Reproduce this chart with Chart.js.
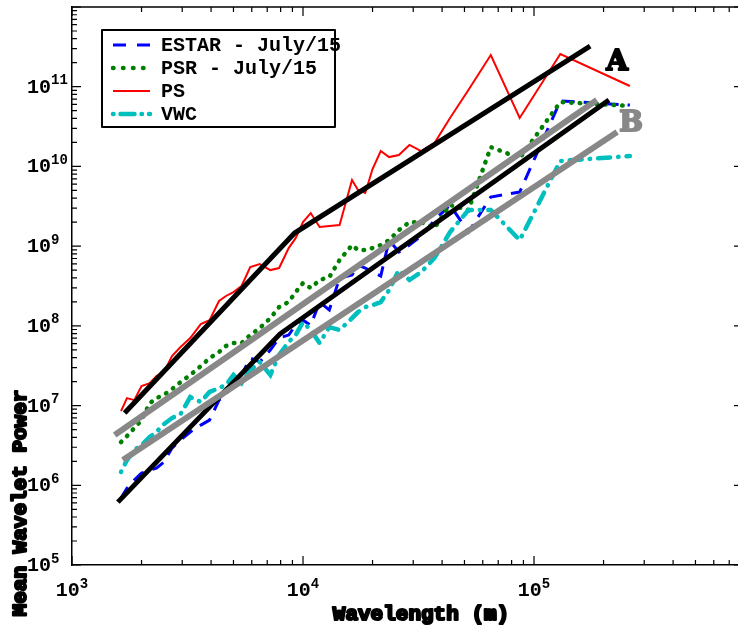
<!DOCTYPE html>
<html>
<head>
<meta charset="utf-8">
<title>Wavelet power vs wavelength</title>
<script src="https://cdn.jsdelivr.net/npm/chart.js@4.4.1/dist/chart.umd.min.js"></script>
<style>
  html, body { margin: 0; padding: 0; background: #fff; }
</style>
</head>
<body>
<canvas id="myChart" width="738" height="628"></canvas>
<script>
// wavelengths (m), shared by the four measured series
const wavelength = [1630, 1730, 1860, 2000, 2170, 2320, 2500, 2710, 2950, 3250,
  3610, 3940, 4330, 4640, 5000, 5420, 5910, 6500, 7220, 7880,
  8670, 9290, 10000, 10800, 11800, 13000, 14400, 16300, 17300, 18600,
  20000, 21700, 23600, 26000, 28900, 32500, 37100, 43300, 52000, 65000,
  86700, 130000, 260000];

const estarPower = [6.9e5, 9.2e5, 1.16e6, 1.42e6, 1.55e6, 1.64e6, 1.95e6, 2.93e6, 3.69e6, 4.66e6,
  5.69e6, 6.58e6, 1.17e7, 1.36e7, 2.09e7, 2.42e7, 3.94e7, 3.52e7, 4.97e7, 7.03e7,
  7.67e7, 1.02e8, 1.18e8, 1.02e8, 1.99e8, 1.58e8, 3.98e8, 4.34e8, 5.79e8, 5.31e8,
  4.73e8, 4.22e8, 1.19e9, 8.43e8, 1.03e9, 1.34e9, 2.12e9, 3.28e9, 1.50e9, 4.13e9,
  4.77e9, 6.62e10, 5.89e10];

const psrPower = [3.48e6, 4.14e6, 5.22e6, 6.58e6, 1.07e7, 1.24e7, 1.36e7, 1.61e7, 1.97e7, 2.42e7,
  3.13e7, 3.94e7, 4.69e7, 5.58e7, 6.08e7, 6.08e7, 7.67e7, 9.38e7, 1.25e8, 1.72e8,
  1.99e8, 2.65e8, 3.44e8, 2.98e8, 3.76e8, 4.09e8, 6.70e8, 1.03e9, 8.93e8, 8.93e8,
  9.46e8, 1.03e9, 1.19e9, 1.59e9, 2.00e9, 2.00e9, 1.69e9, 3.28e9, 2.84e9, 1.75e10,
  1.27e10, 6.43e10, 5.73e10];

const psPower = [8.53e6, 1.24e7, 1.17e7, 1.76e7, 1.91e7, 2.34e7, 2.63e7, 4.18e7, 5.42e7, 7.03e7,
  1.05e8, 1.18e8, 2.05e8, 2.37e8, 2.65e8, 3.16e8, 5.47e8, 5.96e8, 5.01e8, 5.31e8,
  9.46e8, 1.26e9, 2.00e9, 2.60e9, 1.74e9, 1.79e9, 1.84e9, 6.75e9, 5.06e9, 4.64e9,
  9.27e9, 1.56e10, 1.31e10, 1.39e10, 1.86e10, 1.56e10, 1.97e10, 4.05e10, 9.1e10, 2.50e11,
  4.05e10, 2.57e11, 1.02e11];

const vwcPower = [1.47e6, 2.07e6, 2.77e6, 3.19e6, 4.03e6, 4.66e6, 5.86e6, 6.97e6, 7.82e6, 1.28e7,
  1.11e7, 1.48e7, 1.66e7, 1.81e7, 2.42e7, 1.91e7, 2.79e7, 3.52e7, 2.42e7, 4.31e7,
  6.27e7, 7.67e7, 1.12e8, 8.86e7, 6.08e7, 9.66e7, 8.86e7, 1.25e8, 1.49e8, 1.72e8,
  1.82e8, 1.99e8, 2.81e8, 5.01e8, 3.76e8, 4.73e8, 7.10e8, 1.50e9, 2.84e9, 2.84e9,
  1.19e9, 1.17e10, 1.35e10];

// fitted power laws (A: black, B: gray)
const fitPsX = [1690, 9200, 175000];
const fitPsY = [8.05e6, 1.46e9, 3.24e11];
const fitEstarX = [1580, 7940, 211000];
const fitEstarY = [6.15e5, 7.89e7, 6.8e10];
const fitPsrX = [1530, 187000];
const fitPsrY = [4.27e6, 6.8e10];
const fitVwcX = [1660, 229000];
const fitVwcY = [2.07e6, 2.7e10];

const labelA = { text: 'A', x: 2.29e5, y: 1.98e11 };
const labelB = { text: 'B', x: 2.63e5, y: 3.4e10 };

const xTickValues = [1e3, 1e4, 1e5];
const yTickValues = [1e5, 1e6, 1e7, 1e8, 1e9, 1e10, 1e11];

const xTitle = 'Wavelength (m)';
const yTitle = 'Mean Wavelet Power';

const pts = (xs, ys) => xs.map((x, i) => ({ x: x, y: ys[i] }));
const MONO = '"Liberation Mono", "DejaVu Sans Mono", monospace';

// draws "10" with a raised exponent; align 'left' or 'center'
function drawPow(ctx, v, x, y, align) {
  const e = String(Math.round(Math.log10(v)));
  ctx.font = 'bold 20px ' + MONO;
  const wb = ctx.measureText('10').width;
  ctx.font = 'bold 14px ' + MONO;
  const we = ctx.measureText(e).width;
  const x0 = align === 'center' ? x - (wb + we) / 2 : x;
  ctx.textAlign = 'left';
  ctx.textBaseline = 'middle';
  ctx.font = 'bold 20px ' + MONO;
  ctx.fillText('10', x0, y);
  ctx.font = 'bold 14px ' + MONO;
  ctx.fillText(e, x0 + wb, y - 7);
}

// inward tick marks, frame, tick labels, titles, legend, A/B labels
const decorations = {
  id: 'decorations',
  afterDraw(chart) {
    const ctx = chart.ctx;
    const a = chart.chartArea;
    const xs = chart.scales.x, ys = chart.scales.y;
    ctx.save();
    ctx.strokeStyle = '#000';
    ctx.lineWidth = 1.5;
    ctx.beginPath();
    ctx.moveTo(a.left, a.top); ctx.lineTo(a.right, a.top);
    ctx.stroke();

    const rightAxis = a.right + 5; // right axis sits just outside the picture
    ctx.lineWidth = 1.2;
    const marks = (scale, fn) => {
      const lo = Math.floor(Math.log10(scale.min)), hi = Math.ceil(Math.log10(scale.max));
      for (let e = lo; e <= hi; e++) {
        for (let m = 1; m <= 9; m++) {
          const v = m * Math.pow(10, e);
          if (v < scale.min * 0.999 || v > scale.max * 1.001) continue;
          fn(scale.getPixelForValue(v), m === 1 ? 9 : 5);
        }
      }
    };
    ctx.beginPath();
    marks(xs, (p, len) => {
      ctx.moveTo(p, a.bottom); ctx.lineTo(p, a.bottom - len);
      ctx.moveTo(p, a.top); ctx.lineTo(p, a.top + len);
    });
    marks(ys, (p, len) => {
      ctx.moveTo(a.left, p); ctx.lineTo(a.left + len, p);
      ctx.moveTo(rightAxis, p); ctx.lineTo(rightAxis - len, p);
    });
    ctx.stroke();

    // tick labels
    ctx.fillStyle = '#000';
    xs.ticks.forEach(t => drawPow(ctx, t.value, xs.getPixelForValue(t.value), 591, 'center'));
    ys.ticks.forEach(t => drawPow(ctx, t.value, 27, ys.getPixelForValue(t.value) + 1, 'left'));

    // axis titles (heavy)
    ctx.strokeStyle = '#000';
    ctx.lineWidth = 2.2;
    ctx.lineJoin = 'round';
    ctx.font = 'bold 21px ' + MONO;
    ctx.textAlign = 'center';
    ctx.textBaseline = 'middle';
    ctx.strokeText(xTitle, 421, 615);
    ctx.fillText(xTitle, 421, 615);
    ctx.save();
    ctx.translate(21, 503);
    ctx.rotate(-Math.PI / 2);
    ctx.strokeText(yTitle, 0, 0);
    ctx.fillText(yTitle, 0, 0);
    ctx.restore();

    // A / B labels
    ctx.font = 'bold 28px "DejaVu Serif", serif';
    ctx.lineWidth = 2;
    [[labelA, '#000'], [labelB, '#888']].forEach(([l, c]) => {
      const px = xs.getPixelForValue(l.x), py = ys.getPixelForValue(l.y);
      ctx.fillStyle = c; ctx.strokeStyle = c;
      ctx.strokeText(l.text, px, py);
      ctx.fillText(l.text, px, py);
    });

    // legend
    const box = { left: 102, top: 30, right: 335, bottom: 127 };
    ctx.fillStyle = '#fff';
    ctx.fillRect(box.left, box.top, box.right - box.left, box.bottom - box.top);
    ctx.strokeStyle = '#000';
    ctx.lineWidth = 2;
    ctx.strokeRect(box.left, box.top, box.right - box.left, box.bottom - box.top);
    const entries = chart.data.datasets.filter(d => d.inLegend);
    entries.forEach((d, i) => {
      const y = 45 + i * 23;
      ctx.strokeStyle = d.borderColor;
      ctx.lineWidth = d.borderWidth;
      ctx.lineCap = d.borderCapStyle || 'butt';
      ctx.setLineDash(d.legendDash || d.borderDash || []);
      ctx.beginPath();
      ctx.moveTo(113, y); ctx.lineTo(150, y);
      ctx.stroke();
      ctx.setLineDash([]);
      ctx.lineCap = 'butt';
      ctx.fillStyle = '#000';
      ctx.font = 'bold 20px ' + MONO;
      ctx.textAlign = 'left';
      ctx.textBaseline = 'middle';
      ctx.fillText(d.label, 161, y + 1);
    });
    ctx.restore();
  }
};

const datasets = [
  { label: 'ESTAR - July/15', data: pts(wavelength, estarPower), borderColor: '#0000ff', borderWidth: 3,
    borderDash: [13, 9], legendDash: [13, 11], inLegend: true, order: 10 },
  { label: 'PSR - July/15', data: pts(wavelength, psrPower), borderColor: '#008000', borderWidth: 4.5,
    borderDash: [0.5, 8], borderCapStyle: 'round', legendDash: [0.5, 9.5], inLegend: true, order: 9 },
  { label: 'PS', data: pts(wavelength, psPower), borderColor: '#ff0000', borderWidth: 2,
    inLegend: true, order: 8 },
  { label: 'VWC', data: pts(wavelength, vwcPower), borderColor: '#00bfbf', borderWidth: 4.5,
    borderDash: [0.5, 8, 12, 8], borderCapStyle: 'round', legendDash: [0.5, 7, 14, 7], inLegend: true, order: 7 },
  { label: 'fit A PS', data: pts(fitPsX, fitPsY), borderColor: '#000', borderWidth: 5, order: 3 },
  { label: 'fit A ESTAR', data: pts(fitEstarX, fitEstarY), borderColor: '#000', borderWidth: 5, order: 4 },
  { label: 'fit B PSR', data: pts(fitPsrX, fitPsrY), borderColor: '#888', borderWidth: 6, order: 2 },
  { label: 'fit B VWC', data: pts(fitVwcX, fitVwcY), borderColor: '#888', borderWidth: 6, order: 1 }
];
datasets.forEach(d => { d.showLine = true; d.pointRadius = 0; d.fill = false; d.tension = 0; });

const noPad = s => { s.paddingTop = 0; s.paddingBottom = 0; s.paddingLeft = 0; s.paddingRight = 0; };

new Chart(document.getElementById('myChart'), {
  type: 'scatter',
  data: { datasets: datasets },
  options: {
    responsive: false,
    animation: false,
    devicePixelRatio: 1,
    layout: { padding: { top: 7, right: 0, left: 0, bottom: 0 } },
    plugins: { legend: { display: false }, tooltip: { enabled: false } },
    scales: {
      x: {
        type: 'logarithmic', min: 1000, max: 7.64e5, position: 'bottom',
        afterFit: s => { s.height = 63; noPad(s); },
        afterBuildTicks: s => { s.ticks = xTickValues.map(v => ({ value: v })); },
        grid: { display: false, drawTicks: false },
        border: { display: true, color: '#000', width: 1.5 },
        ticks: { display: false }
      },
      y: {
        type: 'logarithmic', min: 1e5, max: 1e12, position: 'left',
        afterFit: s => { s.width = 72; noPad(s); },
        afterBuildTicks: s => { s.ticks = yTickValues.map(v => ({ value: v })); },
        grid: { display: false, drawTicks: false },
        border: { display: true, color: '#000', width: 1.5 },
        ticks: { display: false }
      }
    }
  },
  plugins: [decorations]
});
</script>
</body>
</html>
